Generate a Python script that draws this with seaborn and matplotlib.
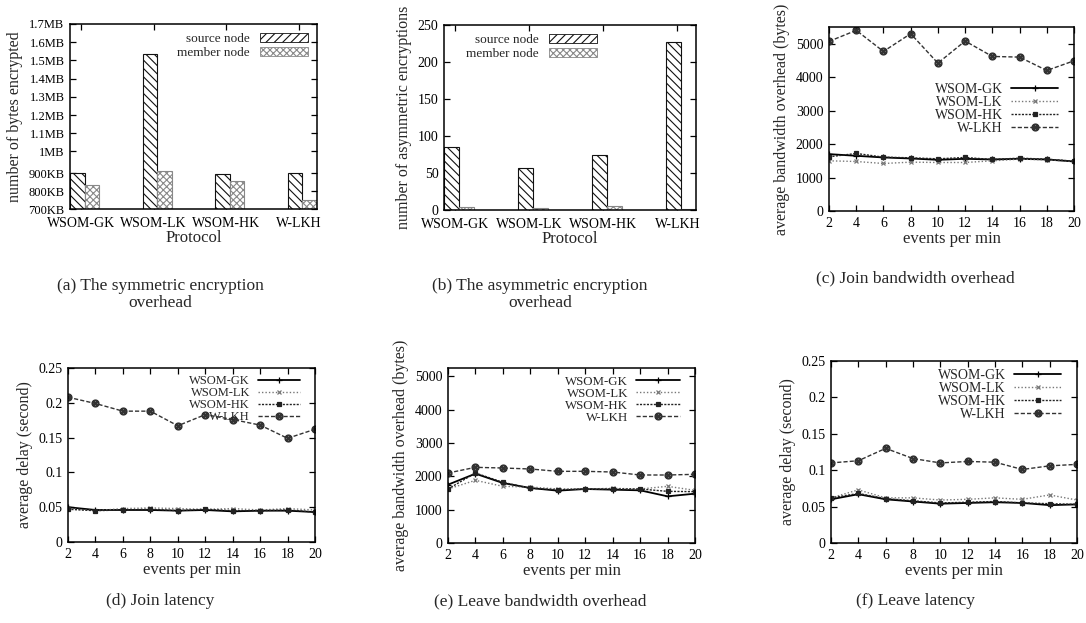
import matplotlib
matplotlib.use("Agg")
import matplotlib.pyplot as plt
import matplotlib.patches as mpatches
import pandas as pd
import seaborn as sns

# ---- data -------------------------------------------------------------
protocols = ["WSOM-GK", "WSOM-LK", "WSOM-HK", "W-LKH"]
node_types = ["source node", "member node"]

# (a) symmetric encryption, in KB
sym_source_kb = [903, 1570, 897, 903]
sym_member_kb = [835, 913, 857, 752]
sym_tick_kb = [700, 800, 900, 1024, 1126.4, 1228.8, 1331.2, 1433.6, 1536, 1638.4, 1740.8]
sym_tick_labels = ["700KB", "800KB", "900KB", "1MB", "1.1MB", "1.2MB", "1.3MB",
                   "1.4MB", "1.5MB", "1.6MB", "1.7MB"]

# (b) asymmetric encryptions
asym_source = [85, 57, 74, 227]
asym_member = [4, 3, 5, 1]

events = [2, 4, 6, 8, 10, 12, 14, 16, 18, 20]
series = ["WSOM-GK", "WSOM-LK", "WSOM-HK", "W-LKH"]

# (c) join bandwidth overhead (bytes)
join_bw = {
    "WSOM-GK": [1700, 1650, 1600, 1570, 1530, 1560, 1540, 1560, 1540, 1480],
    "WSOM-LK": [1500, 1480, 1420, 1460, 1450, 1450, 1500, 1550, 1530, 1480],
    "WSOM-HK": [1620, 1720, 1610, 1590, 1560, 1600, 1540, 1580, 1550, 1490],
    "W-LKH": [5070, 5400, 4770, 5300, 4420, 5080, 4620, 4600, 4200, 4490],
}
# (d) join latency (s)
join_lat = {
    "WSOM-GK": [0.050, 0.046, 0.046, 0.046, 0.045, 0.046, 0.044, 0.045, 0.045, 0.043],
    "WSOM-LK": [0.048, 0.045, 0.048, 0.049, 0.048, 0.047, 0.048, 0.046, 0.048, 0.046],
    "WSOM-HK": [0.047, 0.045, 0.046, 0.047, 0.045, 0.047, 0.045, 0.045, 0.046, 0.043],
    "W-LKH": [0.208, 0.199, 0.188, 0.188, 0.167, 0.183, 0.176, 0.168, 0.149, 0.162],
}
# (e) leave bandwidth overhead (bytes)
leave_bw = {
    "WSOM-GK": [1750, 2080, 1800, 1650, 1570, 1620, 1600, 1580, 1400, 1480],
    "WSOM-LK": [1620, 1880, 1700, 1680, 1620, 1620, 1640, 1620, 1700, 1580],
    "WSOM-HK": [1620, 2100, 1820, 1640, 1600, 1620, 1620, 1620, 1550, 1540],
    "W-LKH": [2100, 2270, 2250, 2220, 2150, 2150, 2130, 2040, 2040, 2060],
}
# (f) leave latency (s)
leave_lat = {
    "WSOM-GK": [0.060, 0.067, 0.060, 0.057, 0.054, 0.055, 0.056, 0.055, 0.052, 0.053],
    "WSOM-LK": [0.062, 0.073, 0.062, 0.062, 0.059, 0.060, 0.062, 0.060, 0.066, 0.059],
    "WSOM-HK": [0.062, 0.068, 0.061, 0.058, 0.055, 0.056, 0.057, 0.055, 0.054, 0.053],
    "W-LKH": [0.110, 0.113, 0.130, 0.116, 0.110, 0.112, 0.111, 0.101, 0.106, 0.108],
}

# ---- style ------------------------------------------------------------
sns.set_theme(style="ticks")
plt.rcParams["font.family"] = ["Liberation Serif", "DejaVu Serif"]
plt.rcParams["axes.linewidth"] = 1.1
plt.rcParams["axes.edgecolor"] = "black"
plt.rcParams["hatch.linewidth"] = 0.8

W, H = 1086, 623
fig = plt.figure(figsize=(W / 100, H / 100), dpi=100)


def add_ax(x0, y0, x1, y1):
    return fig.add_axes([x0 / W, 1 - y1 / H, (x1 - x0) / W, (y1 - y0) / H])


def style_ax(ax, xpad=4):
    ax.tick_params(direction="in", top=True, right=True, length=4, width=0.9,
                   labelsize=10, colors="black", pad=4)
    ax.tick_params(axis="x", pad=xpad)
    for s in ax.spines.values():
        s.set_color("black")


line_styles = {
    "WSOM-GK": dict(color="black", linestyle="-", marker="+", lw=1.3, ms=5),
    "WSOM-LK": dict(color="#777777", linestyle=(0, (1, 1.5)), marker="x", lw=1.0, ms=3.5),
    "WSOM-HK": dict(color="#222222", linestyle=(0, (1.5, 1)), marker="s", lw=1.0, ms=3.2),
    "W-LKH": dict(color="#333333", linestyle=(0, (3, 1.5)), marker=r"$\otimes$", lw=1.0, ms=5),
}


def bar_panel(ax, src, mem, ylabel):
    df = pd.DataFrame({
        "protocol": protocols * 2,
        "node": [node_types[0]] * 4 + [node_types[1]] * 4,
        "value": list(src) + list(mem),
    })
    sns.barplot(data=df, x="protocol", y="value", hue="node", width=0.4,
                palette=["white", "white"], edgecolor="black", linewidth=0.8,
                legend=False, ax=ax)
    for i, p in enumerate(ax.patches[:8]):
        if i < 4:
            p.set_hatch("\\\\\\\\")
            p.set_edgecolor("#111111")
        else:
            p.set_hatch("xxxxx")
            p.set_edgecolor("#888888")
    ax.set_xlim(-0.2, 3.2)
    ax.set_xticks([i - 0.05 for i in range(4)])
    ax.set_xticklabels(protocols, fontsize=9.5)
    ax.set_xlabel("Protocol", fontsize=12, labelpad=0)
    ax.set_ylabel(ylabel, fontsize=11.5)
    style_ax(ax, xpad=5.5)
    handles = [mpatches.Patch(facecolor="white", edgecolor="#111111", hatch="////", lw=0.6),
               mpatches.Patch(facecolor="white", edgecolor="#888888", hatch="xxxxx", lw=0.6)]
    return handles


def line_panel(ax, data, ylim, yticks, ylabel, legend_anchor, legend_size):
    for name in series:
        st = line_styles[name]
        sns.lineplot(x=events, y=data[name], ax=ax, label=name, color=st["color"],
                     linestyle=st["linestyle"], marker=st["marker"], linewidth=st["lw"],
                     markersize=st["ms"], markeredgewidth=0.9, markeredgecolor=st["color"],
                     markerfacecolor=st["color"] if name == "WSOM-HK" else "none")
    ax.set_xlim(2, 20)
    ax.set_xticks(events)
    ax.set_ylim(*ylim)
    ax.set_yticks(yticks)
    ax.set_xlabel("events per min", fontsize=12, labelpad=1)
    ax.set_ylabel(ylabel, fontsize=11.5)
    style_ax(ax)
    ax.legend(loc="upper right", bbox_to_anchor=legend_anchor, frameon=False,
              markerfirst=False, fontsize=legend_size, handlelength=3.4,
              labelspacing=0.0, borderaxespad=0.2, handletextpad=0.6)


# (a)
ax = add_ax(70, 24, 317, 209)
h = bar_panel(ax, sym_source_kb, sym_member_kb, "number of bytes encrypted")
ax.set_ylim(700, 1740.8)
ax.set_yticks(sym_tick_kb)
ax.set_yticklabels(sym_tick_labels, fontsize=9)
ax.legend(h, node_types, loc="upper right", frameon=False, markerfirst=False,
          fontsize=9.5, handlelength=3.6, handleheight=0.7, labelspacing=0.1,
          borderaxespad=0.3)

# (b)
ax = add_ax(444, 25, 696, 210)
h = bar_panel(ax, asym_source, asym_member, "number of asymmetric encryptions")
ax.set_ylim(0, 250)
ax.set_yticks([0, 50, 100, 150, 200, 250])
ax.legend(h, node_types, loc="upper left", bbox_to_anchor=(0.05, 1.0), frameon=False,
          markerfirst=False, fontsize=9.5, handlelength=3.6, handleheight=0.7,
          labelspacing=0.1, borderaxespad=0.3)

# (c)
ax = add_ax(829, 27, 1074, 211)
line_panel(ax, join_bw, (0, 5500), [0, 1000, 2000, 3000, 4000, 5000],
           "average bandwidth overhead (bytes)", (0.97, 0.74), 10)

# (d)
ax = add_ax(68, 368, 315, 542)
line_panel(ax, join_lat, (0, 0.25), [0, 0.05, 0.1, 0.15, 0.2, 0.25],
           "average delay (second)", (0.97, 1.0), 9)
ax.set_yticklabels(["0", "0.05", "0.1", "0.15", "0.2", "0.25"])

# (e)
ax = add_ax(448, 368, 695, 543)
line_panel(ax, leave_bw, (0, 5250), [0, 1000, 2000, 3000, 4000, 5000],
           "average bandwidth overhead (bytes)", (0.97, 1.0), 9.3)

# (f)
ax = add_ax(831, 361, 1077, 543)
line_panel(ax, leave_lat, (0, 0.25), [0, 0.05, 0.1, 0.15, 0.2, 0.25],
           "average delay (second)", (0.97, 1.0), 10)
ax.set_yticklabels(["0", "0.05", "0.1", "0.15", "0.2", "0.25"])

# captions
captions = [
    (160, 278, "(a) The symmetric encryption\noverhead"),
    (540, 278, "(b) The asymmetric encryption\noverhead"),
    (915, 278, "(c) Join bandwidth overhead"),
    (160, 601, "(d) Join latency"),
    (540, 601, "(e) Leave bandwidth overhead"),
    (915, 601, "(f) Leave latency"),
]
for x, y, t in captions:
    fig.text(x / W, 1 - y / H, t, ha="center", va="center" if "\n" not in t else "top",
             fontsize=12.5, linespacing=1.05)

fig.savefig("out.png", dpi=100)
